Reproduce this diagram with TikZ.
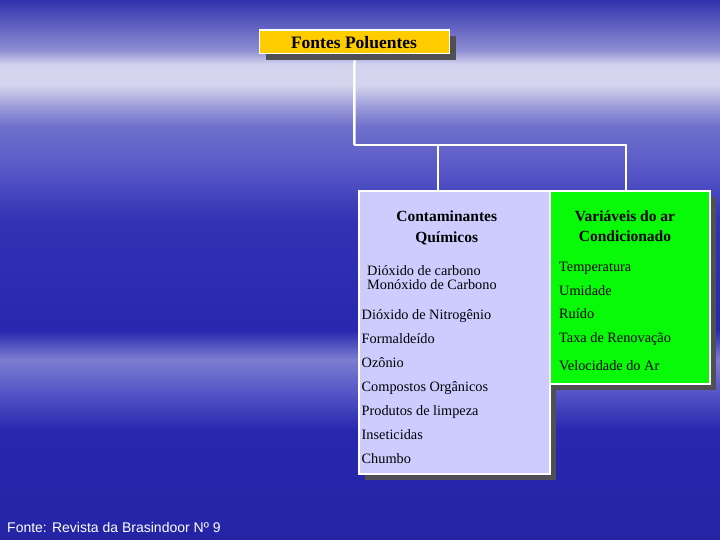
\documentclass[tikz,border=0pt]{standalone}
\usepackage{fontspec}
\setmainfont{Liberation Serif}
\newfontfamily\fontesans{Liberation Sans}
\usetikzlibrary{shadows}

\definecolor{skytop}{RGB}{50,50,175}
\definecolor{skyhaze}{RGB}{140,140,210}
\definecolor{skylight}{RGB}{212,212,238}
\definecolor{skymid}{RGB}{160,160,220}
\definecolor{skysoft}{RGB}{112,112,204}
\definecolor{skyblue}{RGB}{88,88,200}
\definecolor{skydeep}{RGB}{50,50,180}
\definecolor{skydark}{RGB}{40,40,175}
\definecolor{skyband}{RGB}{125,125,210}
\definecolor{skylow}{RGB}{36,36,165}
\definecolor{titleyellow}{RGB}{255,204,0}
\definecolor{boxlavender}{RGB}{204,204,255}
\definecolor{boxgreen}{RGB}{8,250,8}
\definecolor{shadowgrey}{RGB}{80,80,84}

% background: positions mapped onto the 25bp..75bp middle part
\pgfdeclareverticalshading{sky}{100bp}{
  color(0bp)=(skylow); color(25bp)=(skylow);
  color(35.2bp)=(skydark); color(38.9bp)=(skyblue);
  color(41.7bp)=(skyband); color(44.4bp)=(skydark);
  color(54.6bp)=(skydeep); color(59.3bp)=(skyblue);
  color(63.3bp)=(skysoft); color(65.3bp)=(skymid);
  color(67.1bp)=(skylight); color(69bp)=(skylight);
  color(70.4bp)=(skyhaze); color(75bp)=(skytop); color(100bp)=(skytop)}

\begin{document}
\begin{tikzpicture}[x=1pt,y=-1pt]
\tikzset{
  card/.style={draw=white, line width=1.5pt, inner sep=0pt,
    drop shadow={shadow xshift=6pt, shadow yshift=-6pt,
      fill=shadowgrey, opacity=1}},
  tree/.style={draw=white, line width=2.5pt},
  heading/.style={anchor=base, align=center, font=\fontsize{15.5}{19}\bfseries\selectfont},
  entry/.style={anchor=base west, inner sep=0pt, font=\fontsize{14.3}{16}\selectfont}
}
\shade[shading=sky] (0,0) rectangle (720,540);
\useasboundingbox (0,0) rectangle (720,540);

% boxes
\node[card, fill=titleyellow, minimum width=190pt, minimum height=23.5pt]
  (fontes) at (354.5,42) {};
\node[anchor=base, inner sep=0pt, font=\fontsize{17.5}{20}\bfseries\selectfont]
  (fontestxt) at (354,48.3) {Fontes Poluentes};
\node[card, fill=boxlavender, minimum width=191pt, minimum height=283pt]
  (quimicos) at (454.5,332.5) {};
\node[card, fill=boxgreen, minimum width=160pt, minimum height=193pt]
  (arcond) at (630,287.5) {};

% connectors
\coordinate (bus) at (354.3,145);
\draw[tree] ([yshift=-6pt]fontes.south) -- (bus);
\draw[tree] ([xshift=-16.5pt]quimicos.north) -- ([xshift=-16.5pt]quimicos.north |- bus);
\draw[tree] (bus) -| ([xshift=-4pt]arcond.north);

% left box text
\node[heading] (qhead1) at (446.7,222) {Contaminantes};
\node[heading] (qhead2) at (446.7,242.5) {Químicos};
\node[entry] (q1) at (367,275.7) {Dióxido de carbono};
\node[entry] (q2) at (367,289.3) {Monóxido de Carbono};
\foreach \txt [count=\i from 3] in {Dióxido de Nitrogênio, Formaldeído, Ozônio,
    Compostos Orgânicos, Produtos de limpeza, Inseticidas, Chumbo}
  \node[entry] (q\i) at (361.5,{319+24*(\i-3)}) {\txt};

% right box text
\node[heading] (ahead1) at (625,221.7) {Variáveis do ar};
\node[heading] (ahead2) at (625,241) {Condicionado};
\node[entry] (a1) at (559,271) {Temperatura};
\node[entry] (a2) at (559,295) {Umidade};
\node[entry] (a3) at (559,318) {Ruído};
\node[entry] (a4) at (559,342) {Taxa de Renovação};
\node[entry] (a5) at (559,370.7) {Velocidade do Ar};

% source
\node[anchor=base west, inner sep=0pt, text=white, font=\fontesans\fontsize{14}{16}\selectfont]
  (fonte) at (7,532.3) {Fonte: Revista da Brasindoor Nº 9};
\end{tikzpicture}
\end{document}
